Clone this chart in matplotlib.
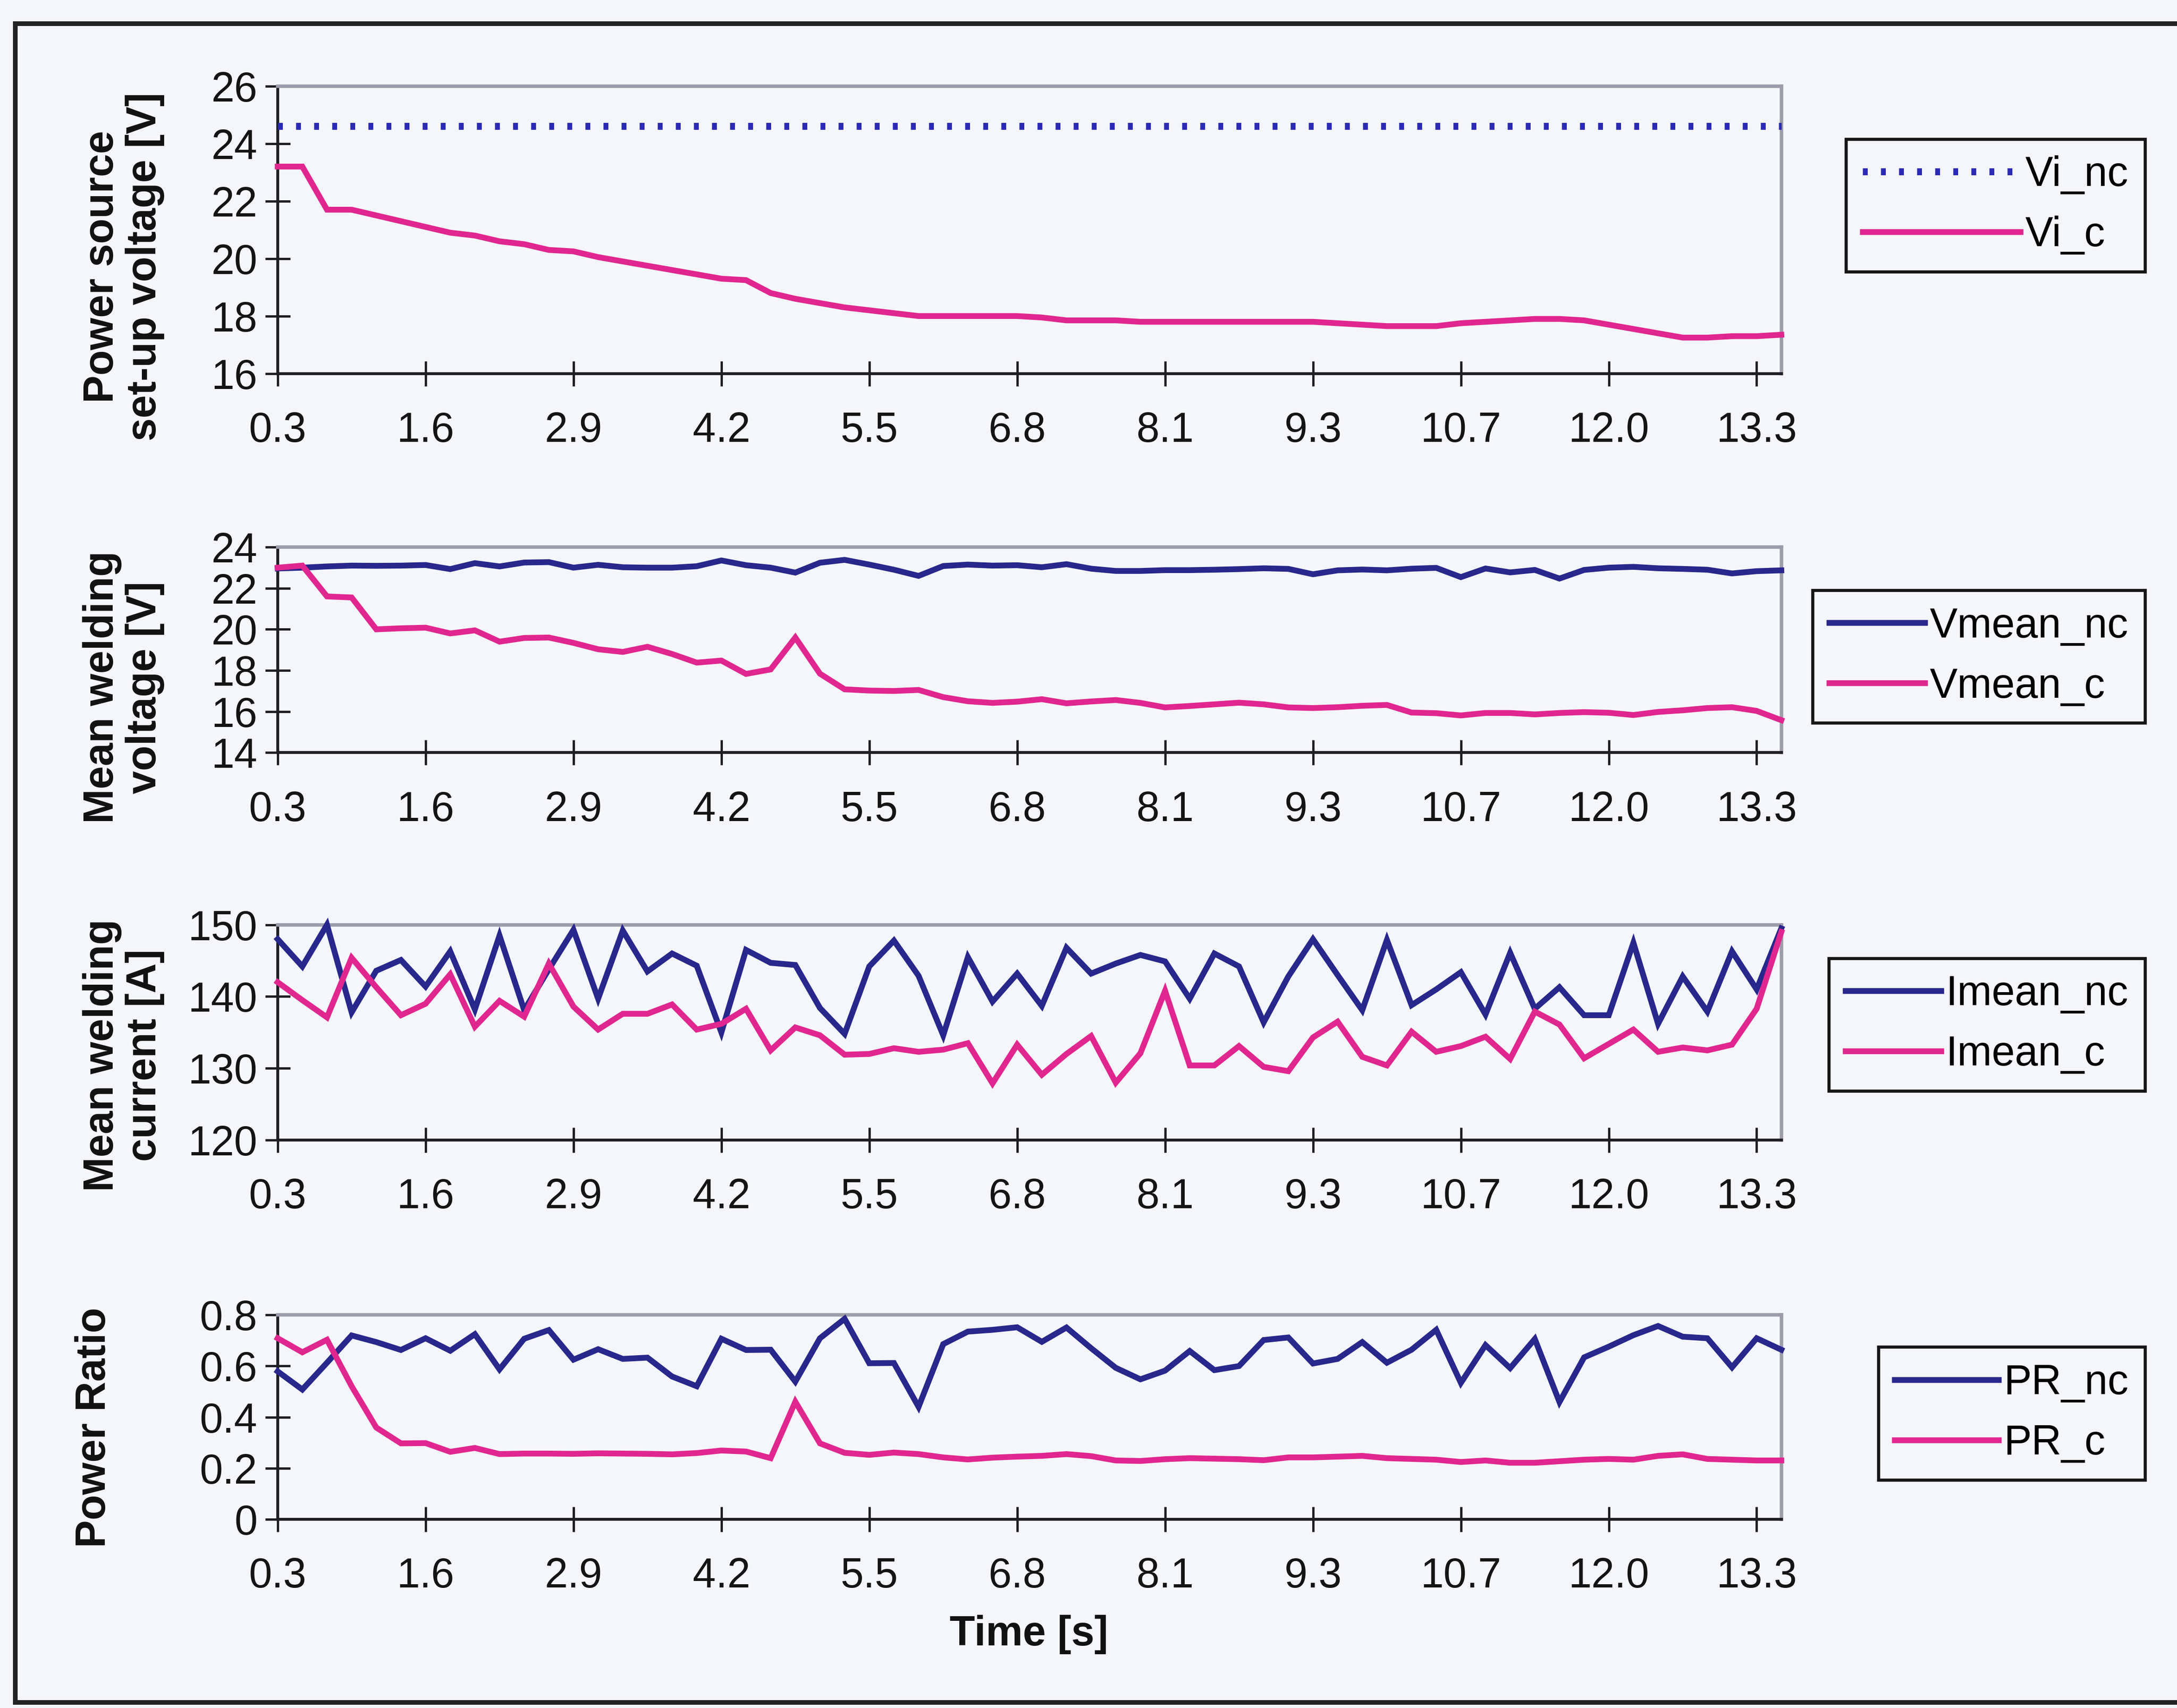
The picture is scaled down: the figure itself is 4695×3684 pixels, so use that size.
import matplotlib
matplotlib.use("Agg")
import numpy as np
import matplotlib.pyplot as plt
from matplotlib.lines import Line2D

plt.rcParams['font.family'] = ['Liberation Sans', 'DejaVu Sans']

# ---------------------------------------------------------------- data
TIME_LABELS = ["0.3", "1.6", "2.9", "4.2", "5.5", "6.8", "8.1", "9.3",
               "10.7", "12.0", "13.3"]
LABEL_STEP = 6  # samples between two labelled ticks

VI_NC = [24.6, 24.6, 24.6, 24.6, 24.6, 24.6, 24.6, 24.6, 24.6, 24.6,
         24.6, 24.6, 24.6, 24.6, 24.6, 24.6, 24.6, 24.6, 24.6, 24.6,
         24.6, 24.6, 24.6, 24.6, 24.6, 24.6, 24.6, 24.6, 24.6, 24.6,
         24.6, 24.6, 24.6, 24.6, 24.6, 24.6, 24.6, 24.6, 24.6, 24.6,
         24.6, 24.6, 24.6, 24.6, 24.6, 24.6, 24.6, 24.6, 24.6, 24.6,
         24.6, 24.6, 24.6, 24.6, 24.6, 24.6, 24.6, 24.6, 24.6, 24.6,
         24.6, 24.6]
VI_C = [23.2, 23.2, 21.7, 21.7, 21.5, 21.3, 21.1, 20.9, 20.8, 20.6,
        20.5, 20.3, 20.25, 20.05, 19.9, 19.75, 19.6, 19.45, 19.3, 19.25,
        18.8, 18.6, 18.45, 18.3, 18.2, 18.1, 18.0, 18.0, 18.0, 18.0,
        18.0, 17.95, 17.85, 17.85, 17.85, 17.8, 17.8, 17.8, 17.8, 17.8,
        17.8, 17.8, 17.8, 17.75, 17.7, 17.65, 17.65, 17.65, 17.75, 17.8,
        17.85, 17.9, 17.9, 17.85, 17.7, 17.55, 17.4, 17.25, 17.25, 17.3,
        17.3, 17.35]

VMEAN_NC = [22.96, 23.0, 23.06, 23.1, 23.09, 23.1, 23.13, 22.93, 23.22, 23.06,
            23.25, 23.27, 23.0, 23.14, 23.02, 23.0, 23.0, 23.07, 23.35, 23.12,
            23.0, 22.76, 23.24, 23.38, 23.15, 22.9, 22.6, 23.08, 23.15, 23.1,
            23.12, 23.02, 23.17, 22.95, 22.84, 22.84, 22.88, 22.88, 22.9, 22.93,
            22.97, 22.94, 22.68, 22.87, 22.91, 22.87, 22.95, 22.99, 22.54, 22.96,
            22.77, 22.89, 22.47, 22.89, 23.0, 23.04, 22.97, 22.94, 22.9, 22.72,
            22.83, 22.87]
VMEAN_C = [23.0, 23.1, 21.6, 21.55, 20.0, 20.05, 20.08, 19.8, 19.95, 19.4,
           19.58, 19.6, 19.34, 19.03, 18.9, 19.15, 18.8, 18.38, 18.48, 17.83,
           18.05, 19.6, 17.84, 17.08, 17.02, 17.0, 17.05, 16.7, 16.5, 16.42,
           16.48, 16.6, 16.4, 16.49, 16.56, 16.42, 16.2, 16.27, 16.35, 16.43,
           16.35, 16.2, 16.17, 16.21, 16.28, 16.32, 15.95, 15.92, 15.81, 15.93,
           15.93, 15.86, 15.93, 15.97, 15.94, 15.83, 15.98, 16.06, 16.17, 16.21,
           16.03, 15.58]

IMEAN_NC = [148.0, 144.2, 150.0, 137.8, 143.6, 145.1, 141.4, 146.3, 138.2, 148.5,
            138.1, 143.8, 149.3, 139.7, 149.2, 143.5, 146.0, 144.3, 135.0, 146.5,
            144.7, 144.4, 138.4, 134.8, 144.2, 147.8, 142.9, 134.6, 145.5, 139.3,
            143.2, 138.7, 146.8, 143.2, 144.6, 145.8, 144.9, 139.7, 146.0, 144.2,
            136.4, 142.8, 148.0, 143.0, 138.1, 147.9, 138.8, 141.0, 143.4, 137.5,
            146.1, 138.3, 141.3, 137.4, 137.4, 147.5, 136.2, 142.8, 137.9, 146.3,
            141.0, 149.5]
IMEAN_C = [142.0, 139.5, 137.1, 145.4, 141.3, 137.4, 139.0, 143.1, 135.8, 139.4,
           137.2, 144.6, 138.6, 135.4, 137.6, 137.6, 138.9, 135.4, 136.2, 138.3,
           132.5, 135.7, 134.6, 131.9, 132.0, 132.8, 132.3, 132.6, 133.5, 127.9,
           133.3, 129.1, 132.0, 134.5, 128.0, 132.1, 140.8, 130.4, 130.4, 133.1,
           130.2, 129.6, 134.3, 136.5, 131.6, 130.4, 135.1, 132.3, 133.1, 134.4,
           131.3, 137.9, 136.1, 131.4, 133.4, 135.4, 132.3, 132.9, 132.5, 133.3,
           138.3, 149.0]

PR_NC = [0.579, 0.508, 0.613, 0.720, 0.694, 0.663, 0.709, 0.660, 0.725, 0.587,
         0.707, 0.741, 0.625, 0.666, 0.628, 0.633, 0.559, 0.521, 0.707, 0.663,
         0.664, 0.539, 0.709, 0.785, 0.611, 0.612, 0.440, 0.686, 0.735, 0.742,
         0.752, 0.695, 0.751, 0.670, 0.593, 0.548, 0.582, 0.659, 0.584, 0.600,
         0.702, 0.712, 0.610, 0.628, 0.694, 0.613, 0.664, 0.742, 0.534, 0.682,
         0.592, 0.706, 0.459, 0.634, 0.676, 0.721, 0.757, 0.715, 0.709, 0.595,
         0.709, 0.664]
PR_C = [0.709, 0.654, 0.703, 0.521, 0.359, 0.297, 0.298, 0.264, 0.279, 0.255,
        0.257, 0.257, 0.256, 0.258, 0.257, 0.256, 0.254, 0.259, 0.269, 0.265,
        0.239, 0.460, 0.297, 0.260, 0.252, 0.261, 0.255, 0.242, 0.234, 0.241,
        0.245, 0.248, 0.255, 0.247, 0.230, 0.228, 0.235, 0.239, 0.237, 0.235,
        0.231, 0.242, 0.242, 0.245, 0.248, 0.239, 0.236, 0.233, 0.224, 0.230,
        0.221, 0.221, 0.227, 0.233, 0.236, 0.233, 0.248, 0.254, 0.236, 0.233,
        0.230, 0.230]

# ---------------------------------------------------------------- style
BG = '#f5f6fc'
BLUE = '#27278c'
DOT_BLUE = '#2a2ab4'
PINK = '#e0268f'
AXIS_DARK = '#1e1e24'
FRAME_GRAY = '#9c9caa'
FS = 21.5

W, H = 4695, 3684
fig = plt.figure(figsize=(W / 300, H / 300), dpi=300, facecolor=BG)

def fx(px):
    return px / 1568.0

def fy(py):
    return 1.0 - py / 1230.0

solid = dict(linestyle='-', linewidth=3.0)
dotted = dict(linestyle=(0, (0.7, 1.9)), linewidth=3.6)

panels = [
    dict(rect=[fx(200), fy(269), fx(1083), fy(62) - fy(269)],
         series=[(VI_NC, 'Vi_nc', DOT_BLUE, dotted), (VI_C, 'Vi_c', PINK, solid)],
         ylim=(16, 26), yticks=[16, 18, 20, 22, 24, 26],
         ylabels=['16', '18', '20', '22', '24', '26'],
         title='Power source\nset-up voltage [V]', tpos=(fx(89), fy(192)),
         leg_top=fy(100), hl=3.8),
    dict(rect=[fx(200), fy(542), fx(1083), fy(394) - fy(542)],
         series=[(VMEAN_NC, 'Vmean_nc', BLUE, solid), (VMEAN_C, 'Vmean_c', PINK, solid)],
         ylim=(14, 24), yticks=[14, 16, 18, 20, 22, 24],
         ylabels=['14', '16', '18', '20', '22', '24'],
         title='Mean welding\nvoltage [V]', tpos=(fx(89), fy(495)),
         leg_top=fy(425), hl=2.3),
    dict(rect=[fx(200), fy(821), fx(1083), fy(666) - fy(821)],
         series=[(IMEAN_NC, 'Imean_nc', BLUE, solid), (IMEAN_C, 'Imean_c', PINK, solid)],
         ylim=(120, 150), yticks=[120, 130, 140, 150],
         ylabels=['120', '130', '140', '150'],
         title='Mean welding\ncurrent [A]', tpos=(fx(89), fy(760)),
         leg_top=fy(690), hl=2.3),
    dict(rect=[fx(200), fy(1094), fx(1083), fy(947) - fy(1094)],
         series=[(PR_NC, 'PR_nc', BLUE, solid), (PR_C, 'PR_c', PINK, solid)],
         ylim=(0, 0.8), yticks=[0, 0.2, 0.4, 0.6, 0.8],
         ylabels=['0', '0.2', '0.4', '0.6', '0.8'],
         title='Power Ratio', tpos=(fx(68), fy(1028)),
         leg_top=fy(970), hl=2.5),
]

for p in panels:
    ax = fig.add_axes(p['rect'])
    ax.set_facecolor(BG)
    n = len(p['series'][0][0])
    x = np.arange(n)
    handles = []
    for values, name, color, style in p['series']:
        ax.plot(x, values, color=color, solid_joinstyle='miter',
                clip_on=False, zorder=3, **style)
        handles.append(Line2D([], [], color=color, **style))

    ax.set_xlim(0, n - 1)
    ax.set_ylim(*p['ylim'])
    ax.set_xticks(np.arange(0, n, LABEL_STEP))
    ax.set_xticklabels(TIME_LABELS)
    ax.set_yticks(p['yticks'])
    ax.set_yticklabels(p['ylabels'])
    ax.tick_params(axis='both', direction='inout', length=13, width=1.2,
                   color=AXIS_DARK, labelsize=FS, labelcolor='#141414')
    ax.tick_params(axis='x', pad=13)
    ax.tick_params(axis='y', pad=4)
    for s in ('left', 'bottom'):
        ax.spines[s].set_color(AXIS_DARK)
        ax.spines[s].set_linewidth(1.5)
    for s in ('top', 'right'):
        ax.spines[s].set_color(FRAME_GRAY)
        ax.spines[s].set_linewidth(1.8)

    fig.text(p['tpos'][0], p['tpos'][1], p['title'], rotation=90,
             ha='center', va='center', multialignment='center',
             fontsize=21.5, fontweight='bold', color='#111111', linespacing=1.12)

    leg = ax.legend(handles, [s[1] for s in p['series']], loc='upper right',
                    bbox_to_anchor=(fx(1545), p['leg_top']),
                    bbox_transform=fig.transFigure, borderaxespad=0,
                    frameon=True, fancybox=False, edgecolor='#151515',
                    facecolor=BG, framealpha=1, fontsize=FS,
                    handlelength=p['hl'], handletextpad=0.12,
                    labelspacing=0.5, borderpad=0.4)
    leg.get_frame().set_linewidth(1.6)

fig.text(fx(741), fy(1177), 'Time [s]', ha='center', va='center',
         fontsize=21.5, fontweight='bold', color='#111111')

# outer frame of the figure
for xs, ys in [((fx(11), 1.0), (fy(17), fy(17))),
               ((fx(11), fx(11)), (fy(17), fy(1226))),
               ((fx(11), 1.0), (fy(1226), fy(1226)))]:
    fig.add_artist(Line2D(xs, ys, transform=fig.transFigure,
                          color='#222222', linewidth=2.4))

fig.savefig('out.png', dpi=300, facecolor=BG)
